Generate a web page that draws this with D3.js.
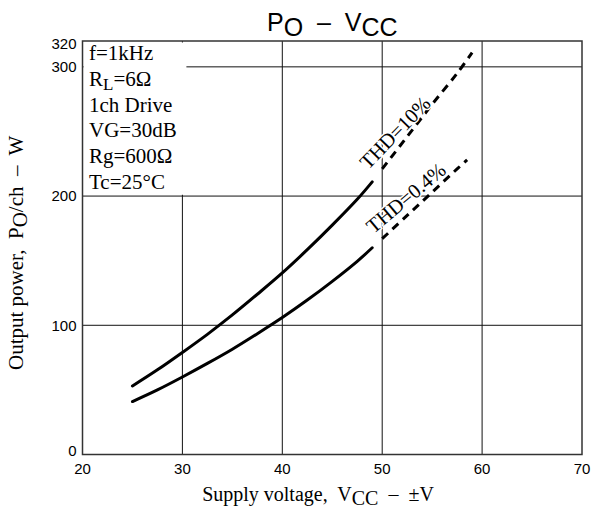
<!DOCTYPE html>
<html>
<head>
<meta charset="utf-8">
<script src="https://cdn.jsdelivr.net/npm/d3@7"></script>
<style>
  body { margin: 0; background: #fff; }
  text { fill: #000; }
</style>
</head>
<body>
<div id="chart"></div>
<script>
// values (Vcc in ±V, Po in W)
const vccSolid = [25, 27.5, 30, 32.5, 35, 37.5, 40, 42.5, 45, 47.5, 49];
const po10Solid = [53, 65.5, 79, 93, 108, 124, 140.5, 158.5, 177.5, 197.5, 211];
const po04Solid = [41, 50, 60, 70.5, 81.5, 93.5, 106, 119.5, 134, 149.5, 160];

const vcc10Dash = [50, 52.5, 55, 57.5, 59];
const po10Dash = [221, 246, 271, 295, 311];
const vcc04Dash = [50, 52.5, 55, 57.5, 58.5];
const po04Dash = [167, 185, 203, 221, 228];

const xTicks = [20, 30, 40, 50, 60, 70];
const yTicks = [0, 100, 200, 300, 320];

const notes = ["f=1kHz", "R|L|=6Ω", "1ch Drive", "VG=30dB", "Rg=600Ω", "Tc=25°C"];

// curve labels: text, Vcc, Po, angle
const labelText = ["THD=10%", "THD=0.4%"];
const labelVcc = [51.3, 52.4];
const labelPo = [249, 198.5];
const labelAngle = [-46, -40];

// set the dimensions and margins of the graph
const W = 592, H = 514;
const margin = {top: 41, right: 10, bottom: 59.5, left: 82.5};

const svg = d3.select("#chart")
  .append("svg")
    .attr("width", W)
    .attr("height", H);

const x = d3.scaleLinear().domain([20, 70]).range([margin.left, W - margin.right]);
const y = d3.scaleLinear().domain([0, 320]).range([H - margin.bottom, margin.top]);

const serif = "'Liberation Serif', 'Times New Roman', serif";
const sans = "'Liberation Sans', Arial, sans-serif";

// grid
svg.append("g")
  .selectAll("line")
  .data(xTicks.slice(1, -1))
  .join("line")
    .attr("x1", d => x(d)).attr("x2", d => x(d))
    .attr("y1", y(0)).attr("y2", y(320))
    .attr("stroke", "#111").attr("stroke-width", 1);

svg.append("g")
  .selectAll("line")
  .data(yTicks.slice(1, -1))
  .join("line")
    .attr("x1", x(20)).attr("x2", x(70))
    .attr("y1", d => y(d)).attr("y2", d => y(d))
    .attr("stroke", "#111").attr("stroke-width", 1);

// white box behind the conditions text
svg.append("rect")
  .attr("x", x(20) + 1)
  .attr("y", y(320) + 1.5)
  .attr("width", x(30.3) - x(20))
  .attr("height", y(201) - y(320) - 1.5)
  .attr("fill", "#fff");

// frame
svg.append("rect")
  .attr("x", x(20)).attr("y", y(320))
  .attr("width", x(70) - x(20)).attr("height", y(0) - y(320))
  .attr("fill", "none").attr("stroke", "#333").attr("stroke-width", 1.5);

// curves
const line = d3.line()
  .x(d => x(d[0]))
  .y(d => y(d[1]))
  .curve(d3.curveCatmullRom);

const curves = [
  {v: vccSolid, p: po10Solid, dash: null},
  {v: vccSolid, p: po04Solid, dash: null},
  {v: vcc10Dash, p: po10Dash, dash: "8,6"},
  {v: vcc04Dash, p: po04Dash, dash: "8,6"}
];

svg.append("g")
  .selectAll("path")
  .data(curves)
  .join("path")
    .attr("d", c => line(c.v.map((v, i) => [v, c.p[i]])))
    .attr("fill", "none")
    .attr("stroke", "#000")
    .attr("stroke-width", 3)
    .attr("stroke-linecap", c => c.dash ? "butt" : "round")
    .attr("stroke-dasharray", c => c.dash);

// curve labels
svg.append("g")
  .selectAll("text")
  .data(labelText)
  .join("text")
    .attr("transform", (d, i) => `translate(${x(labelVcc[i])},${y(labelPo[i])}) rotate(${labelAngle[i]})`)
    .attr("dy", "0.33em")
    .attr("text-anchor", "middle")
    .attr("font-family", serif)
    .attr("font-size", 20.5)
    .attr("stroke", "#fff").attr("stroke-width", 3)
    .attr("paint-order", "stroke")
    .style("fill", "#000")
    .text(d => d);

// tick labels
svg.append("g")
  .selectAll("text")
  .data(xTicks)
  .join("text")
    .attr("x", d => x(d))
    .attr("y", y(0) + 19.5)
    .attr("text-anchor", "middle")
    .attr("font-family", sans)
    .attr("font-size", 15)
    .text(d => d);

svg.append("g")
  .selectAll("text")
  .data(yTicks)
  .join("text")
    .attr("x", x(20) - 6)
    .attr("y", d => y(d))
    .attr("dy", d => d === 0 ? "0.08em" : d === 320 ? "0.55em" : "0.35em")
    .attr("text-anchor", "end")
    .attr("font-family", sans)
    .attr("font-size", 15)
    .text(d => d);

// conditions
const noteText = svg.append("g")
  .selectAll("text")
  .data(notes)
  .join("text")
    .attr("x", x(20) + 6.5)
    .attr("y", (d, i) => 60 + i * 25.8)
    .attr("font-family", serif)
    .attr("font-size", 21);

noteText.each(function(d) {
  const parts = d.split("|");
  const t = d3.select(this);
  t.append("tspan").text(parts[0]);
  if (parts.length > 1) {
    t.append("tspan").attr("dy", 4).attr("font-size", 17).text(parts[1]);
    t.append("tspan").attr("dy", -4).text(parts[2]);
  }
});

// title
const title = svg.append("text")
  .attr("x", (x(20) + x(70)) / 2)
  .attr("y", 30.5)
  .attr("text-anchor", "middle")
  .attr("font-family", sans)
  .attr("font-size", 25)
  .style("white-space", "pre");
title.append("tspan").text("P");
title.append("tspan").attr("dy", 5).text("O");
title.append("tspan").attr("dy", -5).text("  –  V");
title.append("tspan").attr("dy", 5).text("CC");

// x axis title
const xt = svg.append("text")
  .attr("x", 318)
  .attr("y", 501)
  .attr("text-anchor", "middle")
  .attr("font-family", serif)
  .attr("font-size", 20)
  .style("white-space", "pre");
xt.append("tspan").text("Supply voltage,  V");
xt.append("tspan").attr("dy", 4).text("CC");
xt.append("tspan").attr("dy", -4).text("  –  ±V");

// y axis title
const yt = svg.append("text")
  .attr("transform", "translate(22.5,370) rotate(-90)")
  .attr("text-anchor", "start")
  .attr("font-family", serif)
  .attr("font-size", 21)
  .style("white-space", "pre");
yt.append("tspan").text("Output power,  P");
yt.append("tspan").attr("dy", 4).text("O");
yt.append("tspan").attr("dy", -4).text("/ch  –  W");
</script>
</body>
</html>
